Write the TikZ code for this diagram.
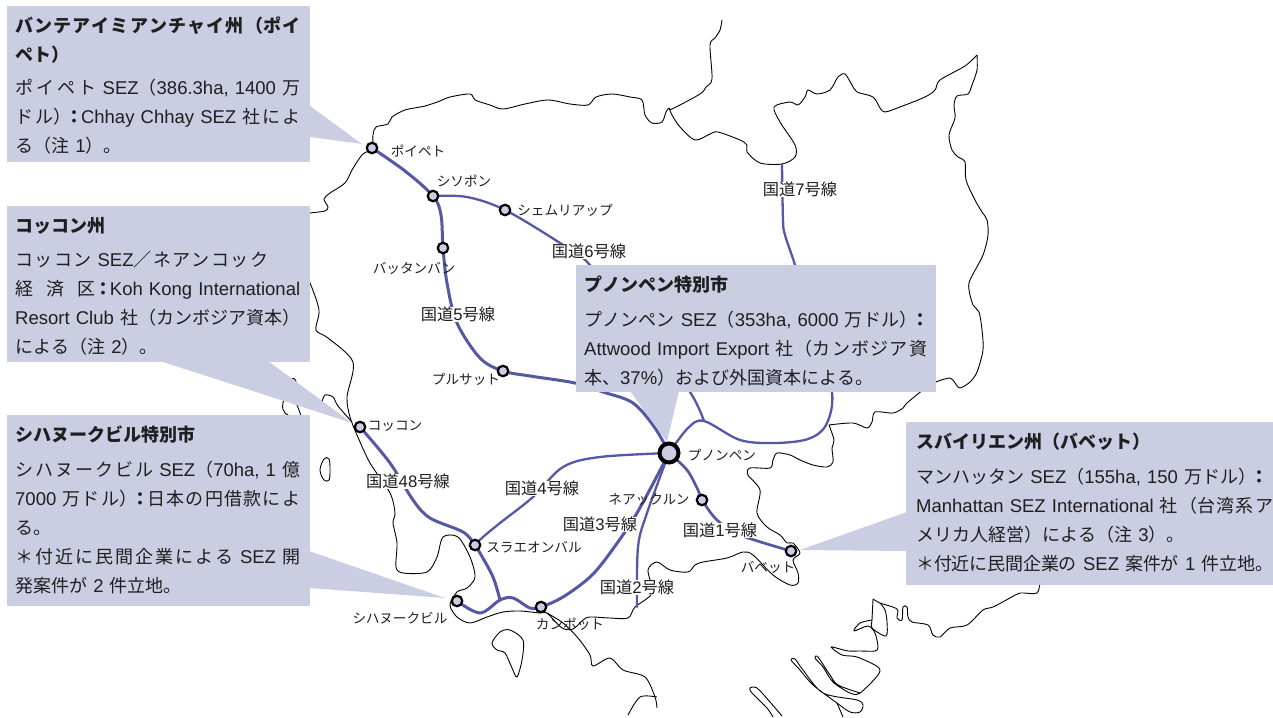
\documentclass[tikz,border=0pt]{standalone}
\usepackage{fontspec}
\setmainfont{Liberation Sans}
\newfontfamily\cjk[Scale=0.973]{Noto Sans CJK JP}
\newcommand{\jt}[1]{{\cjk #1}}
\newcommand{\jb}[1]{{\cjk\bfseries #1}}
\newcommand{\Col}{\kern-6pt{\cjk\bfseries ：}\kern-2pt\relax}
\newcommand{\Eline}{\hfill\null\par}
\XeTeXlinebreaklocale "ja"
\XeTeXlinebreakskip=0pt plus 5pt minus 1pt
\definecolor{panel}{HTML}{CBCDE3}
\definecolor{road}{HTML}{5558A5}
\tikzset{
  callout/.style n args={4}{fill=panel,anchor=north west,inner sep=0pt,text width=#1pt,text=black!88,
    font=\fontsize{18.5}{29}\selectfont,
    execute at begin node={\tolerance=9999\hbadness=10000\hfuzz=3pt\parindent=0pt\parskip=0pt\parfillskip=0pt\leftskip=#2pt\rightskip=#3pt\relax\baselineskip=29pt\def\Gap{\par\vspace{#4pt}}\rule{0pt}{26pt}}},
  outline/.style={line width=0.9pt,black,line join=round},
  mainroad/.style={line width=3pt,road,line cap=round},
  sideroad/.style={line width=2.3pt,road,line cap=round},
  stop/.style={circle,draw=black,fill=panel,line width=2.2pt,minimum size=10.5pt,inner sep=0pt},
  capital/.style={circle,draw=black,fill=panel,line width=4pt,minimum size=19pt,inner sep=0pt},
  citylabel/.style={font=\fontsize{14}{14}\selectfont,inner sep=0pt,text=black!88},
  roadlabel/.style={font=\fontsize{16.7}{16}\selectfont,inner sep=0pt,fill=white,text=black!88},
}
\begin{document}
\begin{tikzpicture}[x=1pt,y=-1pt]
\useasboundingbox (0,0) rectangle (1273,717);
% named places
\coordinate (poipet) at (372,148);
\coordinate (sisophon) at (433,196);
\coordinate (siemreap) at (505,210);
\coordinate (battambang) at (443,248);
\coordinate (pursat) at (503,371);
\coordinate (kohkong) at (360,427);
\coordinate (sreambel) at (475,545);
\coordinate (sihanouk) at (457,601);
\coordinate (kampot) at (541,607);
\coordinate (phnompenh) at (669,453);
\coordinate (neak) at (702,500);
\coordinate (bavet) at (791,551);
\coordinate (junctionA) at (704,421);
\coordinate (junctionB) at (500,600);
\coordinate (road2end) at (637,607);
\coordinate (road7top) at (782,164);
% borders
\draw[outline] plot[smooth,tension=.5] coordinates {(300,215) (310,213) (325,211) (328,207) (324,199) (330,193) (345,183) (352,170) (362,155) (372,148) (373,135) (376,127) (388,124) (392,117) (405,110) (425,106) (440,101) (450,97) (470,94) (475,100) (490,105) (503,109) (525,104) (548,100) (570,104) (588,105) (596,97) (612,94) (630,97) (642,100) (645,115) (652,123) (662,122) (666,112) (669,108) (672,109) (700,94) (706,87) (712,79) (710,45) (715,38) (720,30) (722,20)};
\draw[outline] plot[smooth,tension=.5] coordinates {(669,108) (672,115) (680,127) (695,140) (710,134) (718,132) (740,140) (747,145) (747,152) (760,163) (782,164) (795,157) (795,145) (780,122) (774,107) (790,102) (798,105) (805,97) (808,90) (817,94) (830,90) (838,77) (845,74) (852,85) (857,92) (873,97) (880,108) (885,112) (900,107) (925,97) (935,90) (940,80) (965,66) (977,55)};
\draw[outline] plot[smooth,tension=.5] coordinates {(977,55) (977,70) (972,85) (968,94) (957,96) (954,105) (955,118) (949,135) (952,150) (958,157) (965,162) (966,180) (975,200) (982,212) (987,220) (988,235) (983,255) (970,280) (969,290) (973,305) (979,312) (982,330) (983,350) (977,372) (970,382) (960,388) (955,383) (950,378) (936,382) (923,390) (907,403) (903,408) (893,413) (875,412) (872,422) (867,428) (853,423) (829,425)};
\draw[outline] plot[smooth,tension=.5] coordinates {(829,425) (834,440) (832,448) (833,462) (827,467) (813,465) (800,460) (790,455) (777,453) (773,460) (770,468) (750,468) (748,475) (760,490) (757,513) (767,527) (780,535) (787,543) (793,543) (800,553) (793,560) (798,573) (798,583) (790,585) (773,575) (753,555) (743,552) (727,558) (703,562) (695,565) (688,572) (670,570) (657,562) (648,570) (652,593) (635,607) (628,618) (610,618) (590,617) (583,620) (573,629) (562,628) (547,613) (540,613) (520,611) (503,612) (487,617) (470,623) (457,617) (450,605) (457,592) (467,588) (475,577) (470,557) (458,537) (443,537) (437,557) (427,572) (403,573) (396,567) (397,543) (393,523) (395,513) (390,493) (370,463) (357,435) (350,417) (347,397) (353,362) (328,338) (316,330) (319,310) (310,283) (300,265)};
\draw[outline] plot[smooth,tension=.5] coordinates {(352,422) (338,406) (333,397) (325,395) (322,402)};
\draw[outline] plot[smooth,tension=.5] coordinates {(547,613) (563,623) (578,638) (590,655) (593,666) (610,658) (623,670) (645,677) (655,697) (657,708)};
\draw[outline] plot[smooth,tension=.5] coordinates {(657,697) (640,697) (628,715)};
% islands
\draw[outline] plot[smooth cycle,tension=.6] coordinates {(320,470) (324,459) (329,459) (330,470) (329,480) (324,480)};
\draw[outline] plot[smooth cycle,tension=.5] coordinates {(291,380) (296,381) (290,395) (297,405) (301,420) (285,413) (283,403)};
\draw[outline] plot[smooth cycle,tension=.5] coordinates {(492,643) (500,632) (510,630) (523,640) (522,660) (517,677) (512,668) (505,653) (497,650)};
\draw[outline] plot[smooth,tension=.5] coordinates {(1040,580) (1037,593) (1020,593) (1010,598) (993,607) (983,610) (967,625) (950,628) (940,637) (933,635) (928,625) (912,622) (908,617) (907,607) (903,607) (902,620) (897,618) (897,609) (880,603) (873,599)};
\draw[outline] plot[smooth,tension=.5] coordinates {(873,599) (872,620) (872,628) (886,636) (887,622) (885,610) (880,603)};
\draw[outline] plot[smooth,tension=.5] coordinates {(872,620) (860,623) (854,631) (868,626) (875,633) (878,647) (875,651) (860,651) (848,651) (840,649) (831,647) (842,655) (857,657) (878,667) (878,675) (860,693) (850,693) (833,682) (823,667) (815,658) (818,657) (830,675) (838,685) (860,693)};
\draw[outline] plot[smooth cycle,tension=.5] coordinates {(791,660) (795,659) (803,670) (823,693) (857,700) (863,705) (860,712) (850,712) (837,703) (813,685) (800,670)};
\draw[outline] plot[smooth,tension=.5] coordinates {(837,703) (843,717)};
\draw[outline] plot[smooth,tension=.5] coordinates {(782,716) (770,702) (757,688) (750,688) (752,693) (767,708) (773,717)};
% roads
\draw[mainroad] plot[smooth,tension=.55] coordinates {(poipet) (405,171) (sisophon) (441,215) (battambang) (447,283) (457,323) (480,358) (pursat) (530,376) (575,383) (603,392) (633,403) (655,428) (phnompenh)};
\draw[sideroad] plot[smooth,tension=.55] coordinates {(sisophon) (467,197) (siemreap) (560,243) (590,265) (650,340) (690,392) (junctionA)};
\draw[sideroad] plot[smooth,tension=.55] coordinates {(road7top) (783,220) (785,235) (795,265) (815,330) (832,392) (826,425) (808,439) (775,443) (740,440) (junctionA) (688,428) (phnompenh)};
\draw[sideroad] plot[smooth,tension=.55] coordinates {(phnompenh) (600,457) (563,467) (533,497) (500,523) (483,537) (sreambel)};
\draw[mainroad] plot[smooth,tension=.55] coordinates {(kohkong) (390,463) (413,500) (430,518) (463,532) (sreambel) (480,553) (493,577) (junctionB)};
\draw[mainroad] plot[smooth,tension=.55] coordinates {(sihanouk) (480,613) (junctionB) (513,598) (530,608) (kampot) (563,597) (590,577) (610,553) (637,513) (phnompenh)};
\draw[sideroad] plot[smooth,tension=.55] coordinates {(phnompenh) (647,513) (638,547) (road2end)};
\draw[mainroad,line width=2.7pt] plot[smooth,tension=.55] coordinates {(phnompenh) (687,470) (698,490) (neak) (717,520) (740,535) (bavet)};
% callout tails
\fill[panel] (310,106) -- (362,144) -- (310,137) -- cycle;
\fill[panel] (160,361) -- (352,423) -- (268,361) -- cycle;
\fill[panel] (309,551) -- (445,598) -- (309,588) -- cycle;
\fill[panel] (630,391) -- (667,442) -- (679,391) -- cycle;
\fill[panel] (907,512) -- (800,550) -- (907,551) -- cycle;
% callouts
\node[callout={303}{8}{10}{4}] (box1) at (7,6) {\jb{バンテアイミアンチャイ州（ポイ}\par
\jb{ペト）}\Eline\Gap
\jt{ポイペト} SEZ\jt{（}386.3ha, 1400 \jt{万}\par
\jt{ドル）}\Col Chhay Chhay SEZ \jt{社によ}\par
\jt{る（注} 1\jt{）。}\rule[-10pt]{0pt}{0pt}\Eline};
\node[callout={303}{8}{10}{5}] (box2) at (7,206) {\jb{コッコン州}\Eline\Gap
{\rightskip=42pt \jt{コッコン} SEZ\jt{／ネアンコック}\par}
\jt{経済区}\kern-1pt{\cjk\bfseries ：}\kern-3pt Koh Kong International\par
Resort Club \jt{社（カンボジア資本）}\par
\jt{による（注} 2\jt{）。}\rule[-9pt]{0pt}{0pt}\Eline};
\node[callout={303}{8}{10}{6}] (box3) at (7,415) {\jb{シハヌークビル特別市}\Eline\Gap
\jt{シハヌークビル} SEZ\jt{（}70ha, 1 \jt{億}\par
7000 \jt{万ドル）}\Col\jt{日本の円借款によ}\par
\jt{る。}\Eline
\jt{＊付近に民間企業による} SEZ \jt{開}\par
\jt{発案件が} 2 \jt{件立地。}\rule[-14pt]{0pt}{0pt}\Eline};
\node[callout={360}{8}{9}{6}] (box4) at (576,265) {\jb{プノンペン特別市}\Eline\Gap
\jt{プノンペン} SEZ\jt{（}353ha, 6000 \jt{万ドル）}\Col\par
Attwood Import Export \jt{社（カンボジア資}\par
\jt{本、}37\%\jt{）および外国資本による。}\rule[-8pt]{0pt}{0pt}\Eline};
\node[callout={367}{10}{0}{6}] (box5) at (906,422) {\jb{スバイリエン州（バベット）}\Eline\Gap
\jt{マンハッタン} SEZ\jt{（}155ha, 150 \jt{万ドル）}\Col\Eline
Manhattan SEZ International \jt{社（台湾系ア}\par
\jt{メリカ人経営）による（注} 3\jt{）。}\Eline
\jt{＊付近に民間企業の} SEZ \jt{案件が} 1 \jt{件立地。}\rule[-15pt]{0pt}{0pt}\par};
% stops
\node[stop] (n1) at (poipet) {};
\node[stop] (n2) at (sisophon) {};
\node[stop] (n3) at (siemreap) {};
\node[stop] (n4) at (battambang) {};
\node[stop] (n5) at (pursat) {};
\node[stop] (n6) at (kohkong) {};
\node[stop] (n7) at (sreambel) {};
\node[stop] (n8) at (sihanouk) {};
\node[stop] (n9) at (kampot) {};
\node[capital] (n10) at (phnompenh) {};
\node[stop] (n11) at (neak) {};
\node[stop] (n12) at (bavet) {};
% road labels
\node[roadlabel] (r7) at (800,189) {\jt{国道}7\jt{号線}};
\node[roadlabel] (r6) at (589,251) {\jt{国道}6\jt{号線}};
\node[roadlabel] (r5) at (458,314) {\jt{国道}5\jt{号線}};
\node[roadlabel] (r48) at (408,481) {\jt{国道}48\jt{号線}};
\node[roadlabel] (r4) at (542,488) {\jt{国道}4\jt{号線}};
\node[roadlabel] (r3) at (600,524) {\jt{国道}3\jt{号線}};
\node[roadlabel] (r1) at (720,530) {\jt{国道}1\jt{号線}};
\node[roadlabel] (r2) at (637,587) {\jt{国道}2\jt{号線}};
% city labels
\node[citylabel] (l1) at (418,151) {\jt{ポイペト}};
\node[citylabel] (l2) at (464,181) {\jt{シソポン}};
\node[citylabel] (l3) at (565,210) {\jt{シェムリアップ}};
\node[citylabel] (l4) at (414,268) {\jt{バッタンバン}};
\node[citylabel] (l5) at (466,379) {\jt{プルサット}};
\node[citylabel] (l6) at (395,426) {\jt{コッコン}};
\node[citylabel] (l7) at (534,547) {\jt{スラエオンバル}};
\node[citylabel] (l8) at (400,618) {\jt{シハヌークビル}};
\node[citylabel] (l9) at (570,624) {\jt{カンポット}};
\node[citylabel] (l10) at (722,455) {\jt{プノンペン}};
\node[citylabel] (l11) at (649,500) {\jt{ネアックルン}};
\node[citylabel] (l12) at (768,567) {\jt{バベット}};
\end{tikzpicture}
\end{document}
